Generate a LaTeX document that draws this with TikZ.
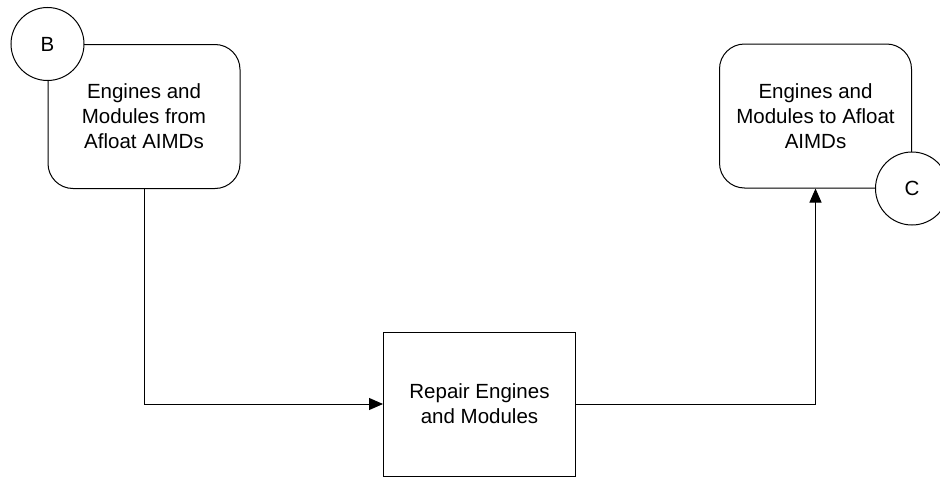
\documentclass[tikz,border=0pt]{standalone}
\usepackage{fontspec}
\setmainfont{Liberation Sans}
\usetikzlibrary{arrows.meta}
\begin{document}
\begin{tikzpicture}[x=1pt,y=-1pt,
  every node/.style={font=\fontsize{20.5}{25}\selectfont, align=center, inner sep=0pt},
  stepbox/.style={draw, line width=1pt, fill=white, minimum width=192pt, minimum height=144pt},
  roundbox/.style={stepbox, rounded corners=25pt},
  connector/.style={draw, circle, line width=1pt, fill=white, minimum size=73pt},
  flow/.style={line width=1pt, -{Triangle[length=14pt,width=12pt]}}]
  \useasboundingbox (0,0) rectangle (940,479);
  \clip (0,0) rectangle (940,479);

  % process boxes
  \node[roundbox] (src) at (144,116.5) {Engines and\\Modules from\\Afloat AIMDs};
  \node[roundbox] (dst) at (815.5,116) {Engines and\\Modules to Afloat\\AIMDs};
  \node[stepbox] (rep) at (479.5,404) {Repair Engines\\and Modules};

  % off-page connectors
  \node[connector] (b) at (src.north west) {B};
  \node[connector] (c) at (dst.south east) {C};

  % flow lines
  \draw[flow] (src.south) |- (rep.west);
  \draw[flow] (rep.east) -| (dst.south);
\end{tikzpicture}
\end{document}
